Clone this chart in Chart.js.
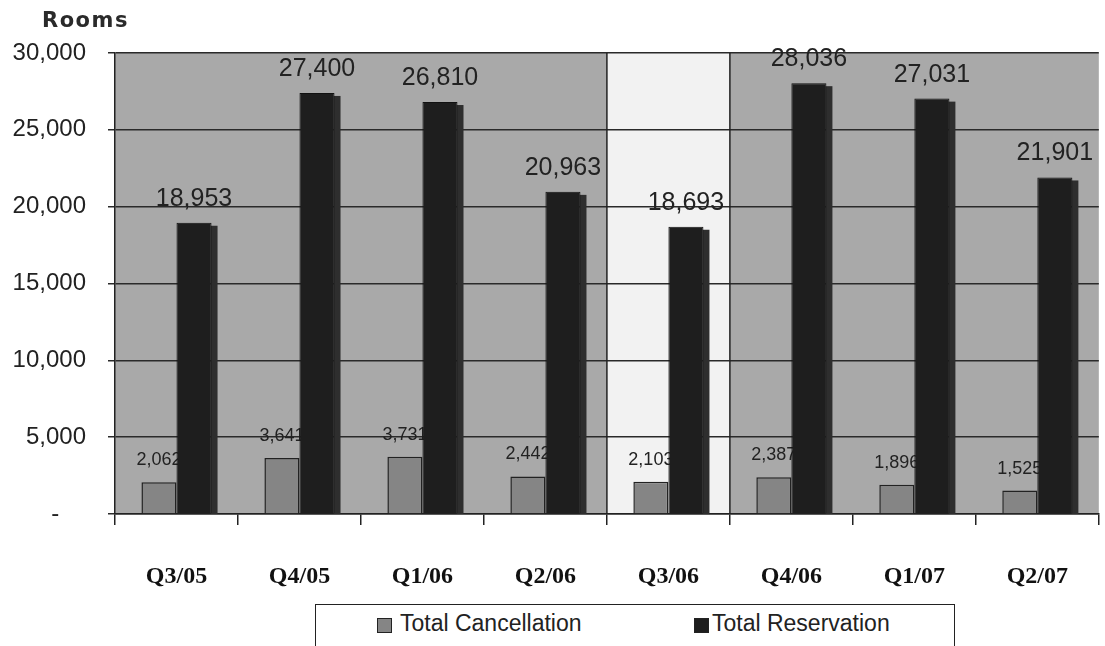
<!DOCTYPE html>
<html>
<head>
<meta charset="utf-8">
<script src="https://cdn.jsdelivr.net/npm/chart.js@4"></script>
<style>
    body { margin: 0; background: #ffffff; }
    .wrap { position: relative; width: 1105px; height: 646px; overflow: hidden; }
    .title {
        position: absolute; left: 42px; top: 8px;
        font: bold 21px "DejaVu Sans", sans-serif; letter-spacing: 1.5px; color: #2a2a2a;
    }
    .legend {
        position: absolute; left: 315px; top: 604px; width: 638px; height: 60px;
        border: 1.5px solid #222; background: #fff;
    }
    .legend .sw { position: absolute; top: 13px; width: 13px; height: 13px; border: 1px solid #222; }
    .legend .tx { position: absolute; top: 7px; font: 23px "Liberation Sans", Arial, sans-serif; line-height: 22px; color: #222; }
</style>
</head>
<body>
<div class="wrap">
    <canvas id="chart"></canvas>
    <div class="title">Rooms</div>
    <div class="legend">
        <div class="sw" style="left:61px;background:#858585"></div>
        <div class="tx" style="left:84px">Total Cancellation</div>
        <div class="sw" style="left:378px;background:#1e1e1e"></div>
        <div class="tx" style="left:396px">Total Reservation</div>
    </div>
</div>
<script>
// 데이터
const quarters = ['Q3/05', 'Q4/05', 'Q1/06', 'Q2/06', 'Q3/06', 'Q4/06', 'Q1/07', 'Q2/07'];
const cancellations = [2062, 3641, 3731, 2442, 2103, 2387, 1896, 1525];
const reservations = [18953, 27400, 26810, 20963, 18693, 28036, 27031, 21901];
const yTicks = [0, 5000, 10000, 15000, 20000, 25000, 30000];

const highlightIndex = 4; // Q3/06 열은 밝은 배경

function fmt(num) {
    return num.toLocaleString('en-US');
}

// 배경 + 강조 열 + 라벨
const bgPlugin = {
    id: 'bgPlugin',
    beforeDraw(chart) {
        const { ctx, chartArea: a, scales: { x } } = chart;
        const half = (x.getPixelForValue(1) - x.getPixelForValue(0)) / 2;
        const cx = x.getPixelForValue(highlightIndex);
        ctx.save();
        ctx.fillStyle = '#a9a9a9';
        ctx.fillRect(a.left, a.top, a.right - a.left, a.bottom - a.top);
        ctx.fillStyle = '#f2f2f2';
        ctx.fillRect(cx - half, a.top, half * 2, a.bottom - a.top);
        ctx.restore();
    },
    beforeDatasetsDraw(chart) {
        const { ctx, chartArea: a, scales: { x } } = chart;
        const half = (x.getPixelForValue(1) - x.getPixelForValue(0)) / 2;
        const cx = x.getPixelForValue(highlightIndex);
        ctx.save();
        ctx.strokeStyle = '#222';
        ctx.lineWidth = 1.5;
        [cx - half, cx + half].forEach(px => {
            ctx.beginPath();
            ctx.moveTo(px, a.top);
            ctx.lineTo(px, a.bottom);
            ctx.stroke();
        });
        // 취소 라벨은 예약 막대 아래에 깔리도록 먼저 그림
        const meta = chart.getDatasetMeta(0);
        ctx.font = '18px "Liberation Sans", Arial, sans-serif';
        ctx.fillStyle = '#222';
        ctx.textAlign = 'center';
        ctx.textBaseline = 'alphabetic';
        meta.data.forEach((bar, i) => {
            ctx.fillText(fmt(cancellations[i]), bar.x, bar.y - 17);
        });
        ctx.restore();
    },
    beforeDatasetDraw(chart, args) {
        if (args.index !== 1) return;
        // 예약 막대 오른쪽 그림자 (3D 느낌)
        const { ctx, chartArea: a } = chart;
        ctx.save();
        ctx.fillStyle = '#2e2e2e';
        args.meta.data.forEach(bar => {
            ctx.fillRect(bar.x + bar.width / 2 - 1, bar.y + 3, 7, a.bottom - bar.y - 3);
        });
        ctx.restore();
    },
    afterDatasetsDraw(chart) {
        const { ctx } = chart;
        const meta = chart.getDatasetMeta(1);
        ctx.save();
        ctx.font = '25px "Liberation Sans", Arial, sans-serif';
        ctx.fillStyle = '#222';
        ctx.textAlign = 'center';
        ctx.textBaseline = 'alphabetic';
        meta.data.forEach((bar, i) => {
            ctx.fillText(fmt(reservations[i]), bar.x, bar.y - 17);
        });
        ctx.restore();
    }
};

new Chart(document.getElementById('chart'), {
    type: 'bar',
    data: {
        labels: quarters,
        datasets: [
            {
                label: 'Total Cancellation',
                data: cancellations,
                backgroundColor: '#858585',
                borderColor: '#222',
                borderWidth: 1.5
            },
            {
                label: 'Total Reservation',
                data: reservations,
                backgroundColor: '#1e1e1e',
                borderColor: '#111',
                borderWidth: 1
            }
        ]
    },
    options: {
        responsive: true,
        maintainAspectRatio: false,
        animation: false,
        categoryPercentage: 0.57,
        barPercentage: 1.0,
        layout: { padding: { top: 53, right: 0, bottom: 52, left: 0 } },
        plugins: {
            legend: { display: false },
            tooltip: { enabled: false }
        },
        scales: {
            x: {
                grid: {
                    offset: true,
                    drawOnChartArea: false,
                    drawTicks: true,
                    tickLength: 11,
                    color: '#222',
                    lineWidth: 1.5
                },
                border: { color: '#222', width: 1.5 },
                ticks: {
                    padding: 37,
                    color: '#111',
                    font: { family: '"Liberation Serif", "Times New Roman", serif', size: 24, weight: 'bold' }
                },
                afterFit(scale) { scale.height = 80; }
            },
            y: {
                min: 0,
                max: 30000,
                afterBuildTicks(scale) {
                    scale.ticks = yTicks.map(v => ({ value: v }));
                },
                grid: {
                    color: '#2a2a2a',
                    lineWidth: 1.5,
                    tickLength: 7
                },
                border: { color: '#222', width: 1.5 },
                ticks: {
                    padding: 22,
                    color: '#222',
                    font: { family: '"Liberation Sans", Arial, sans-serif', size: 24 },
                    callback: v => v === 0 ? '-    ' : fmt(v)
                },
                afterFit(scale) { scale.width = 115; }
            }
        }
    },
    plugins: [bgPlugin]
});
</script>
</body>
</html>
